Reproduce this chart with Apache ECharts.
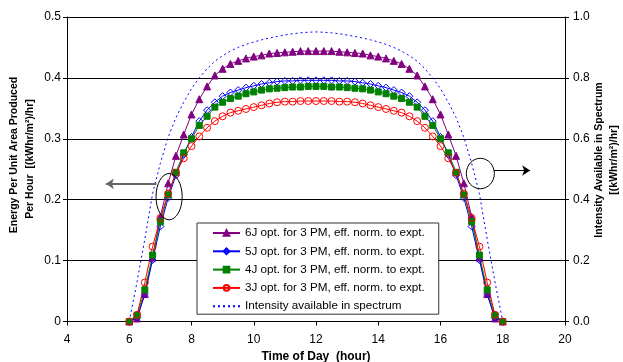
<!DOCTYPE html>
<html>
<head>
<meta charset="utf-8">
<script src="https://cdn.jsdelivr.net/npm/echarts@6/dist/echarts.min.js"></script>
<style>
  html, body { margin: 0; padding: 0; background: #fff; }
  #chart { width: 623px; height: 362px; }
</style>
</head>
<body>
<div id="chart"></div>
<script>
// time of day, every quarter hour
const hours = [6, 6.25, 6.5, 6.75, 7, 7.25, 7.5, 7.75, 8, 8.25, 8.5, 8.75, 9, 9.25, 9.5, 9.75, 10, 10.25, 10.5, 10.75, 11, 11.25, 11.5, 11.75, 12,
  12.25, 12.5, 12.75, 13, 13.25, 13.5, 13.75, 14, 14.25, 14.5, 14.75, 15, 15.25, 15.5, 15.75, 16, 16.25, 16.5, 16.75, 17, 17.25, 17.5, 17.75, 18]

// energy per unit area per hour, kWhr/m2/hr
const sixJ = [0, 0.005, 0.045, 0.105, 0.172, 0.227, 0.272, 0.307, 0.340, 0.365, 0.386, 0.404, 0.415, 0.423, 0.428, 0.432, 0.435, 0.437, 0.440, 0.441, 0.442, 0.443, 0.444, 0.444, 0.444,
  0.444, 0.444, 0.443, 0.442, 0.441, 0.440, 0.437, 0.435, 0.432, 0.428, 0.423, 0.415, 0.404, 0.386, 0.365, 0.340, 0.307, 0.272, 0.227, 0.172, 0.105, 0.045, 0.005, 0]
const fiveJ = [0, 0.006, 0.045, 0.101, 0.156, 0.203, 0.240, 0.274, 0.303, 0.329, 0.347, 0.360, 0.370, 0.376, 0.380, 0.384, 0.387, 0.390, 0.392, 0.394, 0.395, 0.395, 0.396, 0.396, 0.396,
  0.396, 0.396, 0.395, 0.395, 0.394, 0.392, 0.390, 0.387, 0.384, 0.380, 0.376, 0.370, 0.360, 0.347, 0.329, 0.303, 0.274, 0.240, 0.203, 0.156, 0.101, 0.045, 0.006, 0]
const fourJ = [0, 0.010, 0.052, 0.109, 0.164, 0.208, 0.245, 0.277, 0.300, 0.322, 0.337, 0.352, 0.360, 0.366, 0.370, 0.374, 0.377, 0.380, 0.382, 0.383, 0.384, 0.385, 0.385, 0.386, 0.386,
  0.386, 0.385, 0.385, 0.384, 0.383, 0.382, 0.380, 0.377, 0.374, 0.370, 0.366, 0.360, 0.352, 0.337, 0.322, 0.300, 0.277, 0.245, 0.208, 0.164, 0.109, 0.052, 0.010, 0]
const threeJ = [0, 0.011, 0.064, 0.123, 0.170, 0.210, 0.244, 0.268, 0.288, 0.304, 0.318, 0.329, 0.337, 0.343, 0.346, 0.349, 0.352, 0.355, 0.358, 0.360, 0.361, 0.361, 0.362, 0.362, 0.362,
  0.362, 0.362, 0.361, 0.361, 0.360, 0.358, 0.355, 0.352, 0.349, 0.346, 0.343, 0.337, 0.329, 0.318, 0.304, 0.288, 0.268, 0.244, 0.210, 0.170, 0.123, 0.064, 0.011, 0]
// right axis
const intensity = [0, 0.13, 0.27, 0.42, 0.52, 0.605, 0.67, 0.72, 0.765, 0.80, 0.83, 0.855, 0.873, 0.888, 0.90, 0.91, 0.918, 0.925, 0.931, 0.936, 0.941, 0.945, 0.948, 0.950, 0.951,
  0.950, 0.948, 0.945, 0.941, 0.936, 0.931, 0.925, 0.918, 0.91, 0.90, 0.888, 0.873, 0.855, 0.83, 0.80, 0.765, 0.72, 0.67, 0.605, 0.52, 0.42, 0.27, 0.13, 0]

const seriesNames = [
  '6J opt. for 3 PM, eff. norm. to expt.',
  '5J opt. for 3 PM, eff. norm. to expt.',
  '4J opt. for 3 PM, eff. norm. to expt.',
  '3J opt. for 3 PM, eff. norm. to expt.',
  'Intensity available in spectrum',
]

const FONT = '"Liberation Sans", Arial, sans-serif'
const pairs = (ys) => hours.map((h, i) => [h, ys[i]])
const hollow = 'rgba(0,0,0,0)'

function cellSeries(name, data, color, symbol, size, filled) {
  return {
    name, type: 'line', data: pairs(data),
    symbol, symbolSize: size,
    lineStyle: { color, width: 1 },
    itemStyle: { color: filled ? color : hollow, borderColor: color, borderWidth: 1 },
  }
}

const chart = echarts.init(document.getElementById('chart'), null, { renderer: 'canvas' })

const series = [
  cellSeries(seriesNames[0], sixJ, '#800080', 'triangle', 7, true),
  cellSeries(seriesNames[1], fiveJ, '#0000ff', 'diamond', 7, false),
  cellSeries(seriesNames[2], fourJ, '#008000', 'rect', 6, true),
  cellSeries(seriesNames[3], threeJ, '#ff0000', 'circle', 7, false),
  {
    name: seriesNames[4], type: 'line', yAxisIndex: 1, data: pairs(intensity),
    symbol: 'none', lineStyle: { color: '#0000ff', width: 1, type: [2, 3] },
    itemStyle: { color: '#0000ff' }, z: 1,
  },
]

// arrows pointing at the axes
series[0].markLine = {
  silent: true, symbol: ['none', 'arrow'], symbolSize: 8,
  label: { show: false },
  data: [
    [{ coord: [6.87, 0.226], lineStyle: { color: '#666', width: 2, type: 'solid' } }, { coord: [5.25, 0.226] }],
    [{ coord: [17.72, 0.248], lineStyle: { color: '#000', width: 1, type: 'solid' } }, { coord: [18.88, 0.248] }],
  ],
}

const legendData = seriesNames.map((name, i) =>
  i === 4 ? { name, itemStyle: { opacity: 0 } } : { name })

chart.setOption({
  animation: false,
  textStyle: { fontFamily: FONT },
  grid: { left: 67, right: 58, top: 17, bottom: 40.5, outerBoundsMode: 'none', containLabel: false },
  legend: {
    orient: 'vertical', left: 197, top: 223,
    padding: [3, 14, 1, 15], itemWidth: 27, itemHeight: 7, itemGap: 4.3,
    backgroundColor: '#fff', borderColor: '#333', borderWidth: 1, borderRadius: 0,
    textStyle: { fontSize: 11.7, color: '#000', fontFamily: FONT, lineHeight: 14 },
    data: legendData,
  },
  xAxis: {
    type: 'value', min: 4, max: 20, interval: 2,
    name: 'Time of Day  (hour)', nameLocation: 'middle', nameGap: 27,
    nameTextStyle: { fontWeight: 'bold', fontSize: 12, color: '#000', fontFamily: FONT },
    axisLine: { lineStyle: { color: '#000', width: 1 } },
    axisTick: { length: 4, lineStyle: { color: '#000' } },
    axisLabel: { color: '#000', fontSize: 12, margin: 12, fontFamily: FONT },
    splitLine: { show: false },
  },
  yAxis: [
    {
      type: 'value', min: 0, max: 0.5, interval: 0.1,
      axisLine: { show: true, lineStyle: { color: '#000', width: 1 } },
      axisTick: { show: true, length: 4, lineStyle: { color: '#000' } },
      axisLabel: { color: '#000', fontSize: 12, margin: 6, fontFamily: FONT },
      splitLine: { show: true, lineStyle: { color: '#000', width: 1 } },
    },
    {
      type: 'value', min: 0, max: 1, interval: 0.2, position: 'right',
      axisLine: { show: true, lineStyle: { color: '#000', width: 1 } },
      axisTick: { show: true, length: 4, lineStyle: { color: '#000' } },
      axisLabel: { color: '#000', fontSize: 12, margin: 8, fontFamily: FONT, formatter: (v) => v.toFixed(1) },
      splitLine: { show: false },
    },
  ],
  series,
})

// ellipses round the curves, placed in data units
function ellipseAt(t, v, dt, dv) {
  const c = chart.convertToPixel({ gridIndex: 0 }, [t, v])
  const e = chart.convertToPixel({ gridIndex: 0 }, [t + dt, v + dv])
  return {
    type: 'ellipse', silent: true, z: 100,
    shape: { cx: c[0], cy: c[1], rx: Math.abs(e[0] - c[0]), ry: Math.abs(e[1] - c[1]) },
    style: { fill: null, stroke: '#000', lineWidth: 1 },
  }
}

const nameFont = 'bold 10.5px ' + FONT
const vText = (x, y, text) => ({
  type: 'text', x, y, rotation: Math.PI / 2, silent: true,
  style: { text, font: nameFont, fill: '#000', align: 'center', verticalAlign: 'middle' },
})

chart.setOption({
  graphic: [
    ellipseAt(7.28, 0.205, 0.42, 0.038),
    ellipseAt(17.28, 0.243, 0.45, 0.025),
    vText(14, 155, 'Energy Per Unit Area Produced'),
    vText(30, 159, 'Per Hour  [(kWhr/m²)/hr]'),
    vText(599, 160, 'Intensity Available in Spectrum'),
    vText(614, 160, '[(kWhr/m²)/hr]'),
  ],
})
</script>
</body>
</html>
